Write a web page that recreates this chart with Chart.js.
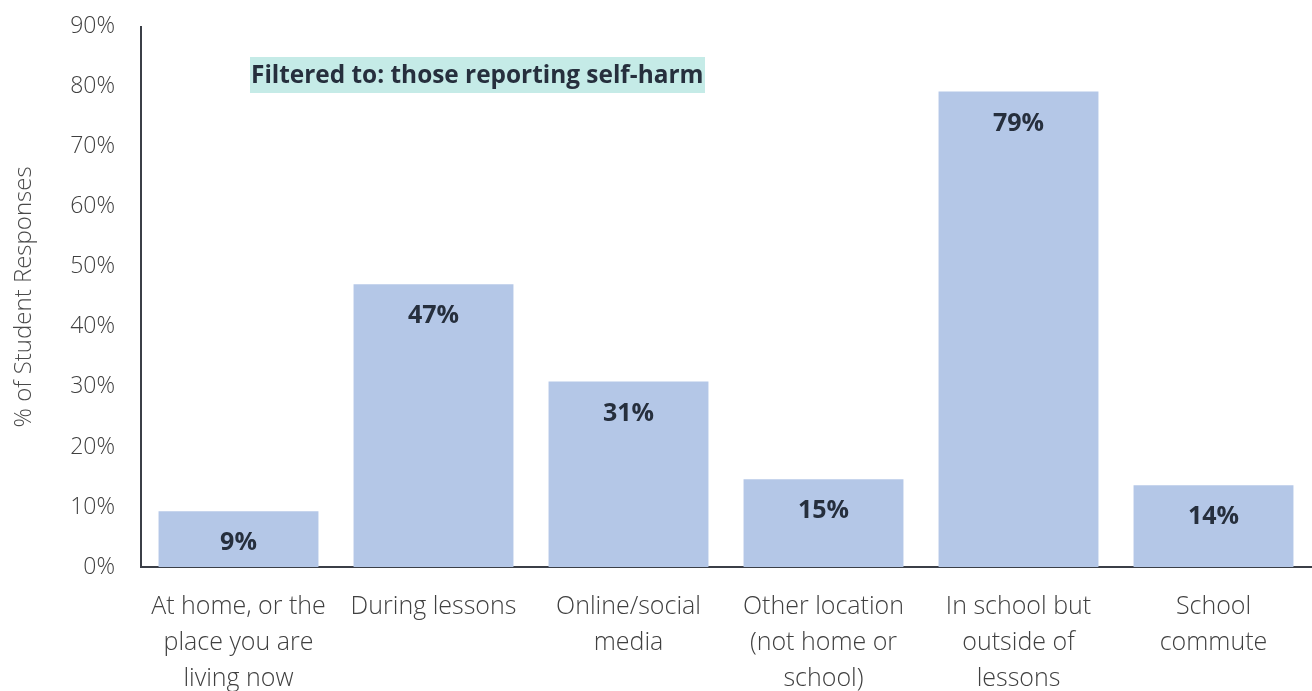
<!DOCTYPE html>
<html><head><meta charset="utf-8">
<script src="https://cdn.jsdelivr.net/npm/chart.js@4/dist/chart.umd.min.js"></script>
<style>html,body{margin:0;padding:0;background:#fff}#wrap{width:1312px;height:691px}</style>
</head><body><div id="wrap"><canvas id="c" width="1312" height="691"></canvas></div>
<script>
const categories = [
  ["At home, or the","place you are","living now"],
  ["During lessons"],
  ["Online/social","media"],
  ["Other location","(not home or","school)"],
  ["In school but","outside of","lessons"],
  ["School","commute"]
];
const values = [9.3, 47.1, 30.9, 14.6, 79.2, 13.6];
const valueLabels = ["9%","47%","31%","15%","79%","14%"];
const yTicks = [0,10,20,30,40,50,60,70,80,90];
const yTitle = "% of Student Responses";
const note = "Filtered to: those reporting self-harm";

const FONT = "'Open Sans', Lato, sans-serif";
const TEXT = "#404040";
const DARK = "#262f3d";

const labelPlugin = {
  id: 'labels',
  afterDatasetsDraw(chart) {
    const ctx = chart.ctx;
    const meta = chart.getDatasetMeta(0);
    ctx.save();
    ctx.font = "bold 25px " + FONT;
    ctx.fillStyle = DARK;
    ctx.textAlign = "center";
    ctx.textBaseline = "middle";
    meta.data.forEach((el, i) => {
      ctx.fillText(valueLabels[i], el.x, el.y + 32);
    });
    // note box
    ctx.font = "bold 24.4px " + FONT;
    const x0 = chart.chartArea.left + 109, y0 = 57;
    ctx.fillStyle = "#C5EBE7";
    ctx.fillRect(x0, y0, 455, 36);
    ctx.fillStyle = DARK;
    ctx.textAlign = "left";
    ctx.fillText(note, x0 + 1, y0 + 19);
    ctx.restore();
  }
};

new Chart(document.getElementById('c'), {
  type: 'bar',
  data: {
    labels: categories,
    datasets: [{ data: values, backgroundColor: "#B4C7E7", barPercentage: 0.82, categoryPercentage: 1.0 }]
  },
  options: {
    responsive: false,
    animation: false,
    layout: { padding: { top: 4, right: 1, left: 0, bottom: 0 } },
    plugins: { legend: { display: false }, tooltip: { enabled: false } },
    scales: {
      x: {
        grid: { display: false, drawTicks: false },
        border: { display: true, color: "#3b3f47", width: 2 },
        ticks: { color: TEXT, font: { family: FONT, size: 25, weight: 300, lineHeight: 1.44 }, padding: 22, maxRotation: 0, autoSkip: false },
        afterFit(s) { s.height = 124; }
      },
      y: {
        min: 0, max: 90,
        afterBuildTicks(s) { s.ticks = yTicks.map(v => ({ value: v })); },
        grid: { display: false, drawTicks: true, tickLength: 13 },
        border: { display: true, color: "#3b3f47", width: 2 },
        ticks: { color: TEXT, font: { family: FONT, size: 23, weight: 300 }, padding: 13, callback: v => v + "%" },
        title: { display: true, text: yTitle, color: "#4a4a4a", font: { family: FONT, size: 24, weight: 300 }, padding: { top: 10, bottom: 0 } },
        afterFit(s) { s.width = 141; }
      }
    }
  },
  plugins: [labelPlugin]
});
</script>
</body></html>
